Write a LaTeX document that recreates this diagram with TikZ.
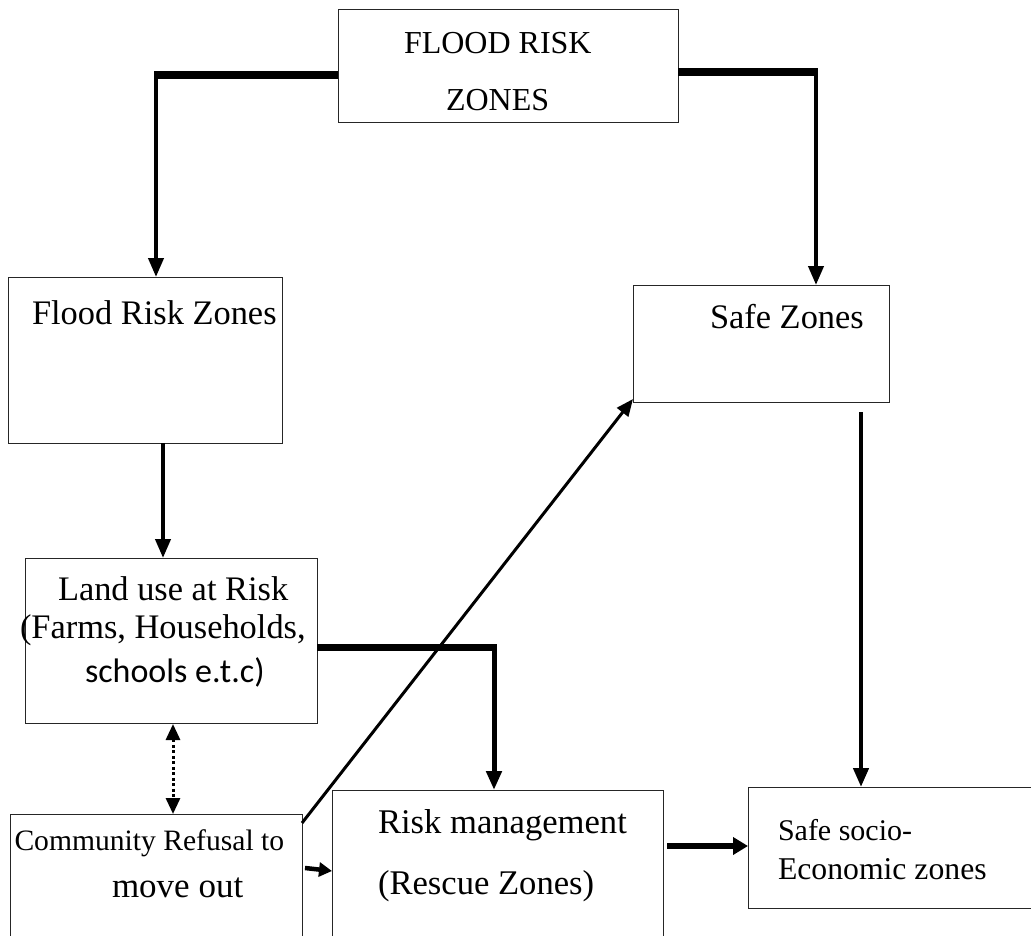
\documentclass[tikz,border=0pt]{standalone}
\usepackage{fontspec}
\setmainfont{Liberation Serif}
\newfontfamily\carlfont{Carlito}
\usetikzlibrary{arrows.meta}
\tikzset{
  box/.style={draw=black!85, line width=1pt, fill=none, inner sep=0pt, outer sep=0pt},
  lbl/.style={anchor=base west, inner sep=0pt, outer sep=0pt},
  tipbig/.style={-{Triangle[length=19pt,width=15pt]}},
  conn/.style={line width=4pt},
  bar/.style={line width=7.5pt},
}
\begin{document}
\begin{tikzpicture}[x=1pt,y=-1pt]
\useasboundingbox (0,0) rectangle (1031,935);
\clip (0,0) rectangle (1031,935);
% boxes
\node[box, minimum width=340pt, minimum height=113pt] (top) at (508,65.5) {};
\node[box, minimum width=274pt, minimum height=166pt] (frz) at (145,360) {};
\node[box, minimum width=256pt, minimum height=117pt] (safe) at (761,343.5) {};
\node[box, minimum width=292pt, minimum height=165pt] (land) at (171,640.5) {};
\node[box, minimum width=292pt, minimum height=140pt] (comm) at (156,884) {};
\node[box, minimum width=331pt, minimum height=170pt] (risk) at (497.5,875) {};
\node[box, minimum width=300pt, minimum height=121pt] (socio) at (898,847.5) {};
% texts
\node[lbl, font=\fontsize{32}{36}\selectfont] (t1) at (404,53) {FLOOD RISK};
\node[lbl, font=\fontsize{32}{36}\selectfont] (t2) at (446,110) {ZONES};
\node[lbl, font=\fontsize{34.4}{40}\selectfont] (t3) at (32,324) {Flood Risk Zones};
\node[lbl, font=\fontsize{34.4}{40}\selectfont] (t4) at (710,328) {Safe Zones};
\node[lbl, font=\fontsize{34.4}{40}\selectfont] (t5) at (58,600) {Land use at Risk};
\node[lbl, font=\fontsize{34.4}{40}\selectfont] (t6) at (20,638) {(Farms, Households,};
\node[lbl, font=\carlfont\fontsize{34}{40}\selectfont] (t7) at (85,682) {schools e.t.c)};
\node[lbl, font=\fontsize{29.6}{34}\selectfont] (t8) at (14.5,850) {Community Refusal to};
\node[lbl, font=\fontsize{35}{40}\selectfont] (t9) at (112,897) {move out};
\node[lbl, font=\fontsize{34.6}{40}\selectfont] (t10) at (378,833) {Risk management};
\node[lbl, font=\fontsize{34.6}{40}\selectfont] (t11) at (378,894) {(Rescue Zones)};
\node[lbl, font=\fontsize{30}{36}\selectfont] (t12) at (778,840) {Safe socio-};
\node[lbl, font=\fontsize{31.7}{36}\selectfont] (t13) at (778,879) {Economic zones};
% connector points
\coordinate (aL) at (338,75);
\coordinate (aLc) at (156,75);
\coordinate (aLe) at (156,277);
\coordinate (aR) at (678,72);
\coordinate (aRc) at (816,72);
\coordinate (aRe) at (816,285);
\coordinate (bS) at (163,443);
\coordinate (bE) at (163,558);
\coordinate (cS) at (317,647);
\coordinate (cC) at (494,647);
\coordinate (cE) at (494,790);
\coordinate (dS) at (861,412);
\coordinate (dE) at (861,787);
\coordinate (eS) at (173,724);
\coordinate (eE) at (173,814);
\coordinate (fS) at (302,823);
\coordinate (fE) at (633,399);
\coordinate (gS) at (305,868);
\coordinate (gE) at (332,871);
\coordinate (hS) at (667,846);
\coordinate (hE) at (748,846);
% connectors
\draw[bar, line cap=butt] (aL) -- ([xshift=-2pt]aLc);
\draw[conn, tipbig] ([yshift=-3pt]aLc) -- (aLe);
\draw[bar, line cap=butt] (aR) -- ([xshift=2pt]aRc);
\draw[conn, tipbig] ([yshift=-3pt]aRc) -- (aRe);
\draw[conn, tipbig] (bS) -- (bE);
\draw[line width=7pt, line cap=butt] (cS) -- ([xshift=2.5pt]cC);
\draw[line width=5pt, tipbig] ([yshift=-3pt]cC) -- (cE);
\draw[line width=4.3pt, tipbig] (dS) -- (dE);
\draw[line width=3pt, dash pattern=on 3pt off 2.5pt,
  {Triangle[length=16pt,width=14pt]}-{Triangle[length=16pt,width=14pt]}] (eS) -- (eE);
\draw[line width=3pt, -{Triangle[length=17pt,width=14pt]}] (fS) -- (fE);
\draw[line width=4.5pt, -{Triangle[length=13pt,width=14pt]}] (gS) -- (gE);
\draw[line width=5.5pt, -{Triangle[length=15pt,width=17pt]}] (hS) -- (hE);
\end{tikzpicture}
\end{document}
